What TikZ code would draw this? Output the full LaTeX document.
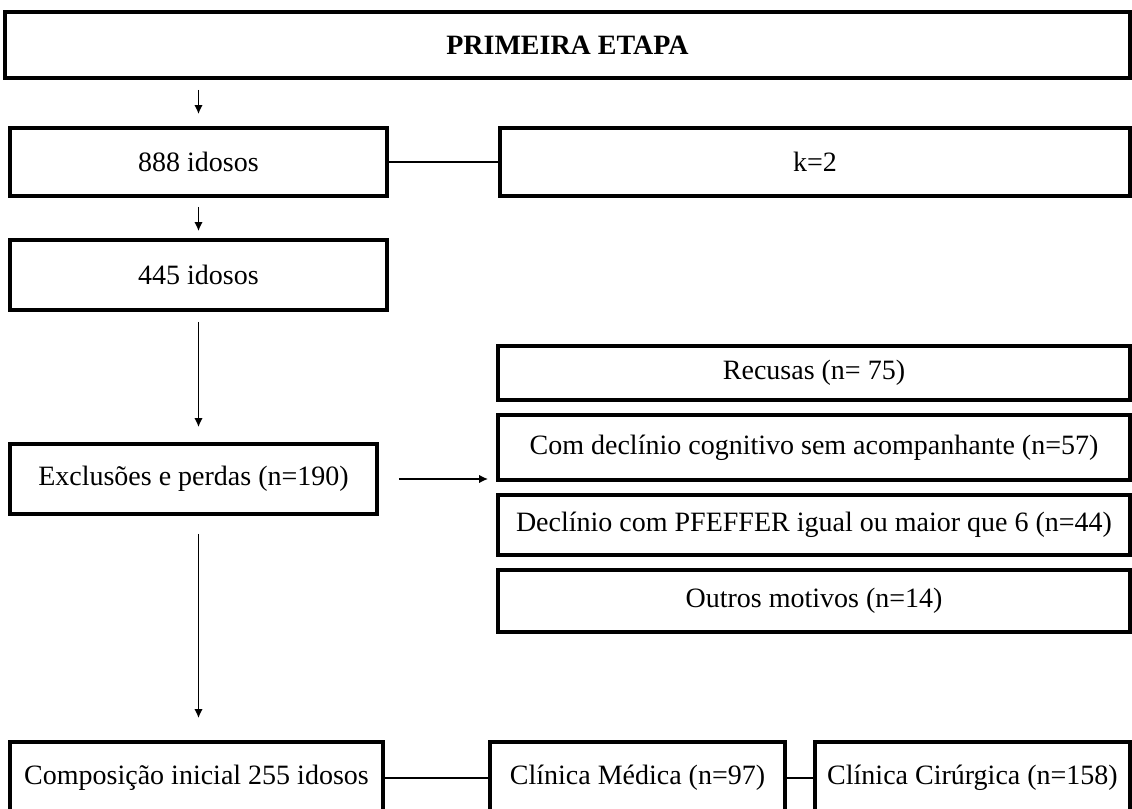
\documentclass[tikz,border=0pt]{standalone}
\usepackage{fontspec}
\setmainfont{Liberation Serif}
\usetikzlibrary{arrows.meta}
\usetikzlibrary{calc}

\begin{document}
\begin{tikzpicture}[x=0.5pt,y=-0.5pt,
  box/.style={draw, line width=1.8pt, inner sep=2pt, font=\fontsize{14}{16}\selectfont},
  arr/.style={-{Latex[length=4.5pt,width=4.2pt]}, line width=0.9pt},
  link/.style={line width=1pt}]
\useasboundingbox (0,0) rectangle (1132,809);

\node[box, minimum width=562.5pt, minimum height=33pt, font=\fontsize{14}{16}\selectfont\bfseries] (top) at (567.5,45) {PRIMEIRA ETAPA};

\node[box, minimum width=188.5pt, minimum height=34pt] (n888) at (198.5,162) {888 idosos};
\node[box, minimum width=315pt, minimum height=34pt] (k2) at (815,162) {k=2};
\node[box, minimum width=188.5pt, minimum height=35pt] (n445) at (198.5,275) {445 idosos};
\node[box, minimum width=183.5pt, minimum height=35pt] (excl) at (193.5,479) {Exclusões e perdas (n=190)};

% motivos das exclusoes
\def\rx{814}
\node[box, minimum width=316pt, minimum height=27pt] (rec) at (\rx,373) {Recusas (n= 75)};
\node[box, minimum width=316pt, minimum height=32.5pt] (decl) at (\rx,447.5) {Com declínio cognitivo sem acompanhante (n=57)};
\node[box, minimum width=316pt, minimum height=30pt] (pfef) at (\rx,525) {Declínio com PFEFFER igual ou maior que 6 (n=44)};
\node[box, minimum width=316pt, minimum height=31pt] (outr) at (\rx,601) {Outros motivos (n=14)};

\node[box, minimum width=186.5pt, minimum height=36pt] (comp) at (196.5,778) {Composição inicial 255 idosos};
\node[box, minimum width=147.5pt, minimum height=36pt] (med) at (637.5,778) {Clínica Médica (n=97)};
\node[box, minimum width=157.5pt, minimum height=36pt] (cir) at (972.5,778) {Clínica Cirúrgica (n=158)};

\draw[arr, shorten <=5pt, shorten >=6pt] (n888.north |- top.south) -- (n888.north);
\draw[link] (n888) -- (k2);
\draw[arr, shorten <=4.5pt, shorten >=3.5pt] (n888) -- (n445);
\draw[arr, shorten <=5pt, shorten >=7.5pt] (n445.south) -- (n445.south |- excl.north);
\draw[arr, shorten <=10pt, shorten >=4pt] (excl.east) -- (excl.east -| decl.west);
\draw[arr, shorten <=9pt, shorten >=11pt] (n445.south |- excl.south) -- (n445.south |- comp.north);
\draw[link] (comp) -- (med);
\draw[link] (med) -- (cir);

\end{tikzpicture}
\end{document}
